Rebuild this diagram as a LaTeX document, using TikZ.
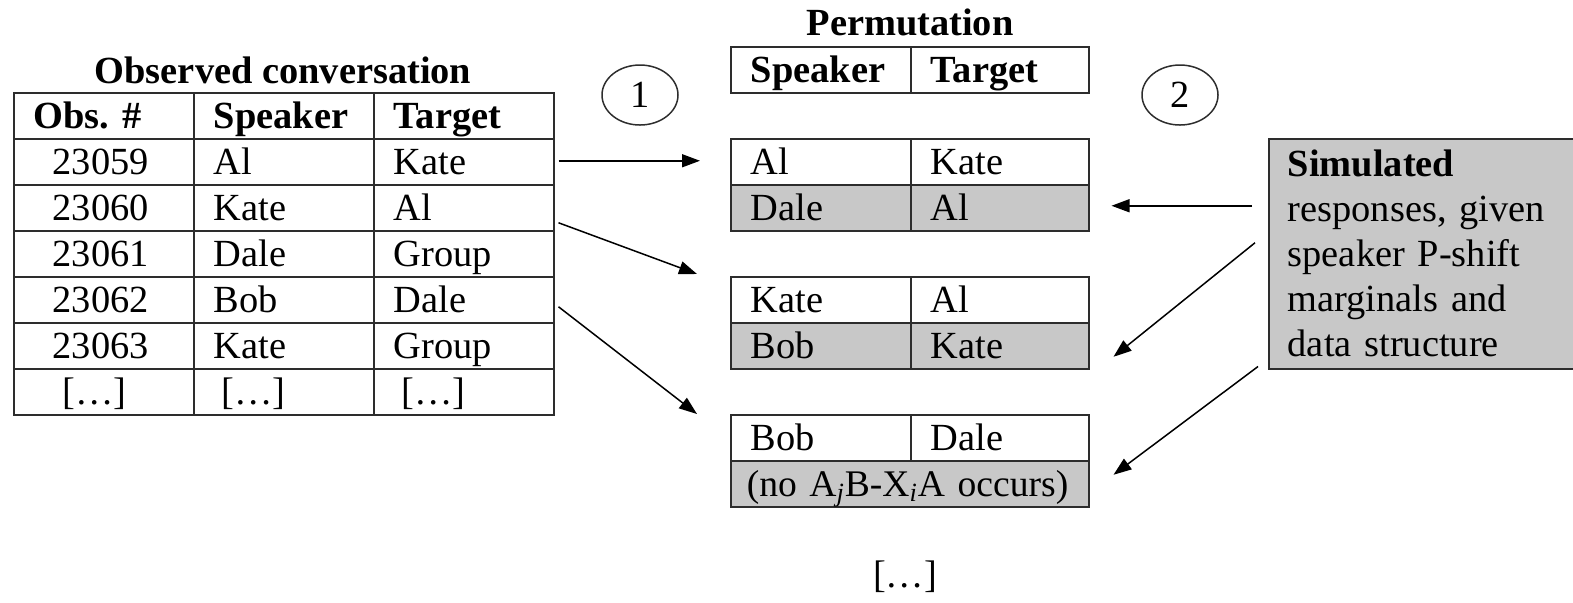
\documentclass[tikz,border=0pt]{standalone}
\usepackage{fontspec}
\setmainfont{Liberation Serif}
\usetikzlibrary{arrows.meta,shapes.geometric}
\definecolor{cellgray}{RGB}{200,200,200}
\definecolor{linecol}{RGB}{45,45,45}
\newcommand{\dfont}{\fontsize{19.2}{22.5}\selectfont}
\frenchspacing
\begin{document}
\begin{tikzpicture}[x=0.5pt,y=-0.5pt,
 cellA/.style={draw=linecol, line width=0.75pt, anchor=north west, inner xsep=10pt, inner ysep=0pt, minimum height=23pt, text height=15pt, text depth=2.3pt, text width=70pt, align=left, font=\dfont},
 cellB/.style={cellA, text width=69pt},
 cellW/.style={cellA, inner xsep=8pt, text width=163pt, font=\fontsize{18.8}{22.5}\selectfont},
 shaded/.style={fill=cellgray},
 ttl/.style={font=\dfont\bfseries, inner sep=0pt},
 num/.style={draw=linecol, line width=0.75pt, ellipse, minimum width=38pt, minimum height=30pt, inner sep=0pt, font=\dfont},
 arr/.style={draw=black, line width=0.75pt, -{Triangle[length=9pt,width=6.5pt]}},
]
\useasboundingbox (0,0) rectangle (1573,602);

% Observed conversation table
\node[ttl] (otitle) at (283,70) {Observed conversation};
\node[cellA] (h1) at (13,92) {\bfseries Obs. \#};
\node[cellA] (h2) at (193,92) {\bfseries Speaker};
\node[cellA] (h3) at (373,92) {\bfseries Target};
\node[cellA] (r1c1) at (13,138) {\hspace*{9.5pt}23059};
\node[cellA] (r1c2) at (193,138) {Al};
\node[cellA] (r1c3) at (373,138) {Kate};
\node[cellA] (r2c1) at (13,184) {\hspace*{9.5pt}23060};
\node[cellA] (r2c2) at (193,184) {Kate};
\node[cellA] (r2c3) at (373,184) {Al};
\node[cellA] (r3c1) at (13,230) {\hspace*{9.5pt}23061};
\node[cellA] (r3c2) at (193,230) {Dale};
\node[cellA] (r3c3) at (373,230) {Group};
\node[cellA] (r4c1) at (13,276) {\hspace*{9.5pt}23062};
\node[cellA] (r4c2) at (193,276) {Bob};
\node[cellA] (r4c3) at (373,276) {Dale};
\node[cellA] (r5c1) at (13,322) {\hspace*{9.5pt}23063};
\node[cellA] (r5c2) at (193,322) {Kate};
\node[cellA] (r5c3) at (373,322) {Group};
\node[cellA] (r6c1) at (13,368) {\hspace*{14.5pt}[…]};
\node[cellA] (r6c2) at (193,368) {\hspace*{4pt}[…]};
\node[cellA] (r6c3) at (373,368) {\hspace*{4pt}[…]};

% Permutation tables
\node[ttl] (ptitle) at (910,22) {Permutation};
\node[cellA] (ph1) at (730,46) {\bfseries Speaker};
\node[cellB] (ph2) at (910,46) {\bfseries Target};

\node[cellA] (a1) at (730,138) {Al};
\node[cellB] (a2) at (910,138) {Kate};
\node[cellA,shaded] (a3) at (730,184) {Dale};
\node[cellB,shaded] (a4) at (910,184) {Al};

\node[cellA] (b1) at (730,276) {Kate};
\node[cellB] (b2) at (910,276) {Al};
\node[cellA,shaded] (b3) at (730,322) {Bob};
\node[cellB,shaded] (b4) at (910,322) {Kate};

\node[cellA] (c1) at (730,414) {Bob};
\node[cellB] (c2) at (910,414) {Dale};
\node[cellW,shaded] (c3) at (730,460) {\mbox{(no A\textsubscript{\textit{j}}B-X\textsubscript{\textit{i}}A occurs)}};

\node[font=\dfont, inner sep=0pt] (dots) at (905,577) {[…]};

% step numbers
\node[num] (n1) at (640,95) {1};
\node[num] (n2) at (1180,95) {2};

% simulated box
\node[draw=linecol, line width=0.75pt, fill=cellgray, anchor=north west, minimum width=158.5pt, minimum height=115pt, inner xsep=9.5pt, inner ysep=0pt, text width=139.5pt, align=left, font=\dfont] (sim) at (1268,138)
 {\textbf{Simulated}\\responses, given\\speaker P-shift\\marginals and\\data structure};

% arrows
\draw[arr] ([shift={(4,-1)}]r1c3.east) -- ([shift={(-30,-1)}]a1.west);
\draw[arr] ([shift={(4,15)}]r2c3.east) -- ([shift={(-33,-2)}]b1.north west);
\draw[arr] ([shift={(4,7)}]r4c3.east) -- ([shift={(-33,0)}]c1.north west);

\draw[arr] ([shift={(-16,-48)}]sim.west) -- ([shift={(22,-2)}]a4.east);
\draw[arr] ([shift={(-13,-11)}]sim.west) -- ([shift={(24,11)}]b4.east);
\draw[arr] ([shift={(-10,-3)}]sim.south west) -- ([shift={(24,-9)}]c3.east);
\end{tikzpicture}
\end{document}
